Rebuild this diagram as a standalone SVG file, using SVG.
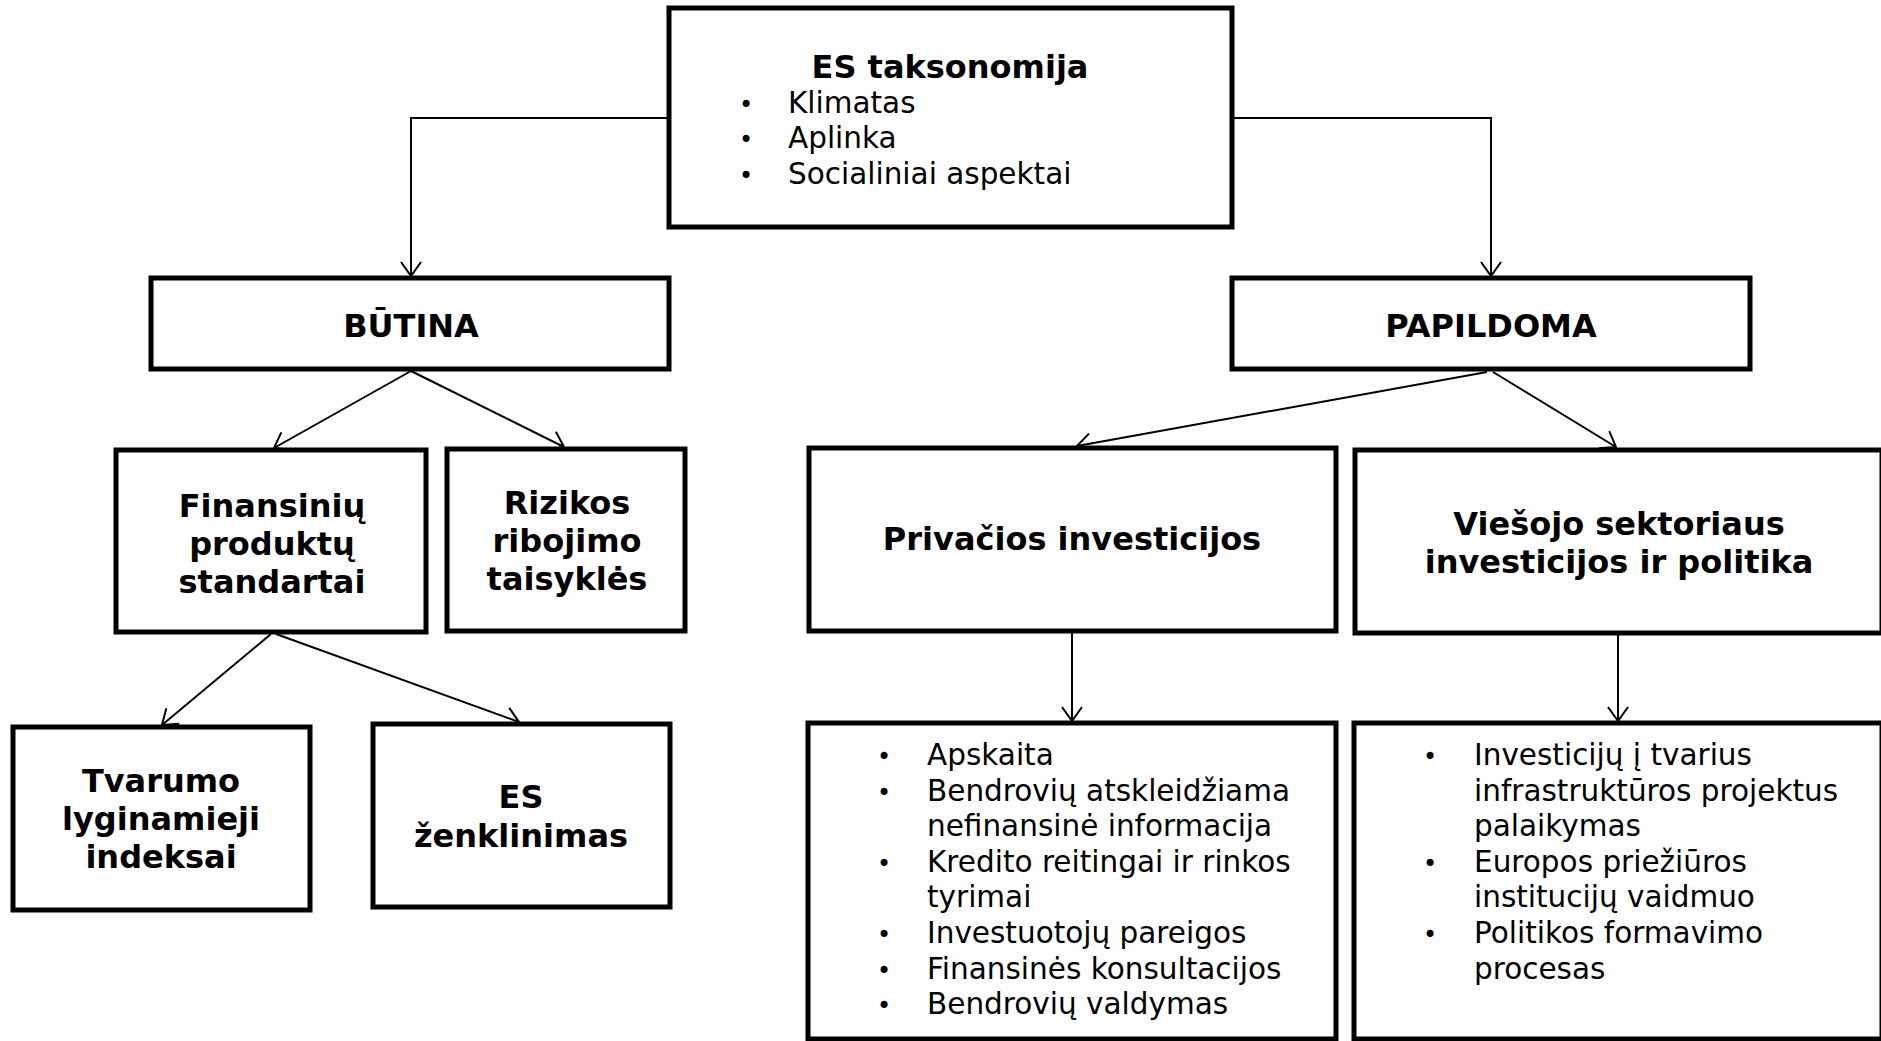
<svg xmlns="http://www.w3.org/2000/svg" width="1881" height="1041" viewBox="0 0 1881 1041">
<style>
.box{fill:#fff;stroke:#000;stroke-width:5}
.b{font-family:"DejaVu Sans","Verdana",sans-serif;font-weight:bold;font-size:32px;text-anchor:middle;fill:#000}
.r{font-family:"DejaVu Sans","Verdana",sans-serif;font-size:29.5px;fill:#000}
.bul{font-family:"DejaVu Sans","Verdana",sans-serif;font-size:24px;text-anchor:middle;fill:#000}
.con{fill:none;stroke:#000;stroke-width:2}
</style>
<defs>
<marker id="arr" viewBox="0 0 16 22" refX="15" refY="11" markerWidth="16" markerHeight="22" markerUnits="userSpaceOnUse" orient="auto">
<path d="M1,1 L15,11 L1,21" fill="none" stroke="#000" stroke-width="2"/>
</marker>
</defs>
<rect width="1881" height="1041" fill="#fff"/>
<g id="connectors">
<path class="con" d="M670,118 H411 V276" marker-end="url(#arr)"/>
<path class="con" d="M1233,118 H1491 V276" marker-end="url(#arr)"/>
<path class="con" d="M411,371 L274,448" marker-end="url(#arr)"/>
<path class="con" d="M411,371 L564,447" marker-end="url(#arr)"/>
<path class="con" d="M271,634 L162,725" marker-end="url(#arr)"/>
<path class="con" d="M276,634 L519,722" marker-end="url(#arr)"/>
<path class="con" d="M1487,372 L1077,446" marker-end="url(#arr)"/>
<path class="con" d="M1493,372 L1616,447" marker-end="url(#arr)"/>
<path class="con" d="M1072,633 V721" marker-end="url(#arr)"/>
<path class="con" d="M1618,635 V721" marker-end="url(#arr)"/>
</g>
<g id="taksonomija">
<rect class="box" x="669" y="8" width="563" height="219"/>
<text class="b" x="950" y="78" font-size="31">ES taksonomija</text>
<text class="bul" x="746" y="113">•</text><text class="r" x="788" y="113">Klimatas</text>
<text class="bul" x="746" y="148">•</text><text class="r" x="788" y="148">Aplinka</text>
<text class="bul" x="746" y="184">•</text><text class="r" x="788" y="184">Socialiniai aspektai</text>
</g>
<g id="butina">
<rect class="box" x="151" y="278" width="518" height="91"/>
<text class="b" x="411" y="337">BŪTINA</text>
</g>
<g id="papildoma">
<rect class="box" x="1232" y="278" width="518" height="91"/>
<text class="b" x="1491" y="337">PAPILDOMA</text>
</g>
<g id="finansiniu">
<rect class="box" x="116" y="450" width="310" height="182"/>
<text class="b" x="272" y="517">Finansinių</text>
<text class="b" x="272" y="555">produktų</text>
<text class="b" x="272" y="593">standartai</text>
</g>
<g id="rizikos">
<rect class="box" x="447" y="449" width="238" height="182"/>
<text class="b" x="567" y="514">Rizikos</text>
<text class="b" x="567" y="552">ribojimo</text>
<text class="b" x="567" y="590">taisyklės</text>
</g>
<g id="tvarumo">
<rect class="box" x="13" y="727" width="297" height="183"/>
<text class="b" x="161" y="792">Tvarumo</text>
<text class="b" x="161" y="830">lyginamieji</text>
<text class="b" x="161" y="868">indeksai</text>
</g>
<g id="zenklinimas">
<rect class="box" x="373" y="724" width="297" height="183"/>
<text class="b" x="521" y="808">ES</text>
<text class="b" x="521" y="847">ženklinimas</text>
</g>
<g id="privacios">
<rect class="box" x="809" y="448" width="527" height="183"/>
<text class="b" x="1072" y="550">Privačios investicijos</text>
</g>
<g id="viesojo">
<rect class="box" x="1355" y="450" width="527" height="183"/>
<text class="b" x="1619" y="535">Viešojo sektoriaus</text>
<text class="b" x="1619" y="573">investicijos ir politika</text>
</g>
<g id="privacios-list">
<rect class="box" x="808" y="723" width="528" height="316"/>
<text class="bul" x="884" y="765">•</text><text class="r" x="927" y="765">Apskaita</text>
<text class="bul" x="884" y="801">•</text><text class="r" x="927" y="801">Bendrovių atskleidžiama</text>
<text class="r" x="927" y="836">nefinansinė informacija</text>
<text class="bul" x="884" y="872">•</text><text class="r" x="927" y="872">Kredito reitingai ir rinkos</text>
<text class="r" x="927" y="907">tyrimai</text>
<text class="bul" x="884" y="943">•</text><text class="r" x="927" y="943">Investuotojų pareigos</text>
<text class="bul" x="884" y="979">•</text><text class="r" x="927" y="979">Finansinės konsultacijos</text>
<text class="bul" x="884" y="1014">•</text><text class="r" x="927" y="1014">Bendrovių valdymas</text>
</g>
<g id="viesojo-list">
<rect class="box" x="1354" y="723" width="528" height="316"/>
<text class="bul" x="1430" y="765">•</text><text class="r" x="1474" y="765">Investicijų į tvarius</text>
<text class="r" x="1474" y="801">infrastruktūros projektus</text>
<text class="r" x="1474" y="836">palaikymas</text>
<text class="bul" x="1430" y="872">•</text><text class="r" x="1474" y="872">Europos priežiūros</text>
<text class="r" x="1474" y="907">institucijų vaidmuo</text>
<text class="bul" x="1430" y="943">•</text><text class="r" x="1474" y="943">Politikos formavimo</text>
<text class="r" x="1474" y="979">procesas</text>
</g>
</svg>
